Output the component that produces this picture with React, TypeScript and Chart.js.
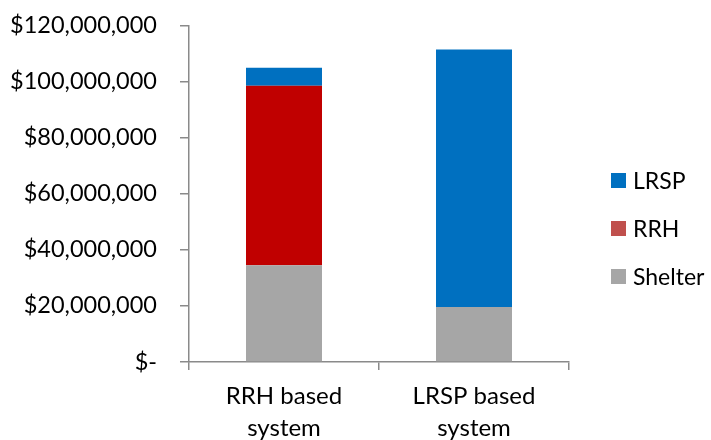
import React, { useEffect, useRef } from "react";
import { Chart, registerables } from "chart.js";

Chart.register(...registerables);

const categories: string[][] = [["RRH based", "system"], ["LRSP based", "system"]];
const shelterValues = [34500000, 19600000];
const rrhValues = [64000000, 0];
const lrspValues = [6400000, 91800000];
const yTickLabels = ["$-", "$20,000,000", "$40,000,000", "$60,000,000", "$80,000,000", "$100,000,000", "$120,000,000"];

const seriesNames = ["Shelter", "RRH", "LRSP"];
const barColors = ["#A6A6A6", "#C00000", "#0070C0"];
const legendColors = ["#A6A6A6", "#C0504D", "#0070C0"];

const FONT = "Lato";
const AXIS_COLOR = "#8A8A8A";

const legendPlugin = {
  id: "sideLegend",
  afterDraw(chart: any) {
    const ctx = chart.ctx;
    ctx.save();
    ctx.font = `23px ${FONT}`;
    ctx.textBaseline = "middle";
    ctx.textAlign = "left";
    const order = [2, 1, 0];
    order.forEach((idx, row) => {
      const cy = 180.5 + row * 48;
      ctx.fillStyle = legendColors[idx];
      ctx.fillRect(611, cy - 7.5, 15, 15);
      ctx.fillStyle = "#000";
      ctx.fillText(seriesNames[idx], 633, cy + 1);
    });
    ctx.restore();
  },
};

export default function App() {
  const ref = useRef<HTMLCanvasElement | null>(null);

  useEffect(() => {
    document.body.style.margin = "0";
    if (!ref.current) return;
    const values = [shelterValues, rrhValues, lrspValues];
    const chart = new Chart(ref.current, {
      type: "bar",
      data: {
        labels: categories as any,
        datasets: seriesNames.map((name, i) => ({
          label: name,
          data: values[i],
          backgroundColor: barColors[i],
          borderWidth: 0,
          barPercentage: 0.4,
          categoryPercentage: 1,
        })),
      },
      options: {
        responsive: false,
        animation: false,
        devicePixelRatio: 1,
        layout: { padding: { top: 25.5, right: 142, bottom: 0, left: 0 } },
        plugins: {
          legend: { display: false },
          tooltip: { enabled: false },
        },
        scales: {
          x: {
            stacked: true,
            afterFit(scale: any) {
              scale.height = 78;
              scale.paddingLeft = 0;
              scale.paddingRight = 0;
            },
            grid: {
              display: true,
              offset: true,
              drawOnChartArea: false,
              drawTicks: true,
              tickLength: 8,
              color: AXIS_COLOR,
              lineWidth: 1.5,
            },
            border: { display: true, color: AXIS_COLOR, width: 1.5 },
            ticks: {
              color: "#000",
              font: { family: FONT, size: 24, lineHeight: 1.31 },
              padding: 11,
              maxRotation: 0,
              autoSkip: false,
            },
          },
          y: {
            stacked: true,
            min: 0,
            max: 120000000,
            afterFit(scale: any) {
              scale.width = 189;
              scale.paddingTop = 0;
              scale.paddingBottom = 0;
            },
            grid: {
              display: true,
              drawOnChartArea: false,
              drawTicks: true,
              tickLength: 9,
              color: AXIS_COLOR,
              lineWidth: 1.5,
            },
            border: { display: true, color: AXIS_COLOR, width: 1.5 },
            ticks: {
              stepSize: 20000000,
              color: "#000",
              font: { family: FONT, size: 23.5 },
              padding: 23,
              callback: (_v: any, i: number) => yTickLabels[i],
            },
          },
        },
      },
      plugins: [legendPlugin],
    });
    return () => chart.destroy();
  }, []);

  return (
    <div style={{ width: 711, height: 440 }}>
      <canvas ref={ref} width={711} height={440} style={{ display: "block" }} />
    </div>
  );
}
